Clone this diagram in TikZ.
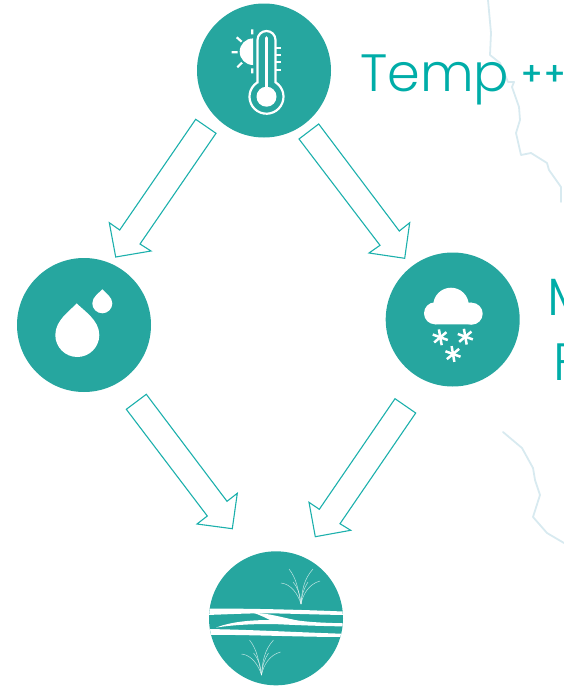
\documentclass[tikz,border=0pt]{standalone}
\usepackage{fontspec}
\newfontfamily\tfont{Poppins Light}
\newfontfamily\pfont{Poppins Medium}
\usetikzlibrary{calc}
\definecolor{tealc}{HTML}{26A69F}
\definecolor{arrowc}{HTML}{1CB0AC}
\definecolor{textc}{HTML}{00ADA8}
\definecolor{mapc}{HTML}{D8EAF0}
\tikzset{
  disc/.style={circle,fill=tealc,minimum size=134pt,inner sep=0pt,draw=none},
  blockarrow/.style={draw=arrowc,line width=1.1pt,line join=miter,fill=none},
  mapline/.style={draw=mapc,line width=1.8pt,line cap=round,line join=round},
  label/.style={inner sep=0pt,anchor=base west,text=textc,font=\tfont\fontsize{52.5}{54}\selectfont},
  flake/.style={draw=white,line width=2.5pt},
  blade/.style={draw=white,line width=0.5pt,opacity=0.7},
  thermo/.style={draw=white,line width=2.2pt}
}
\newcommand{\snow}[3]{\foreach \a in {0,60,120}{\draw[flake] ($(#1,#2)+(\a+#3:8)$) -- ($(#1,#2)+(\a+#3+180:8)$);}}
\newcommand{\grass}[2]{\begin{scope}[shift={(#1,#2)}]
 \draw[blade] (0,0) .. controls (-3,-14) and (-4,-25) .. (-12,-35);
 \draw[blade] (0,0) .. controls (1,-14) and (3,-25) .. (12,-35);
 \draw[blade] (0,0) .. controls (-3,-10) and (-10,-20) .. (-20,-21);
 \draw[blade] (0,0) .. controls (2,-10) and (8,-20) .. (19,-23);
 \draw[blade] (0,0) .. controls (-1,-10) and (-3,-16) .. (-8,-22);
 \draw[blade] (0,0) .. controls (1,-10) and (3,-16) .. (7,-22);
\end{scope}}
\begin{document}
\begin{tikzpicture}[x=1pt,y=-1pt]
\useasboundingbox (0,0) rectangle (564,688);
\clip (0,0) rectangle (564,688);
% map
\draw[mapline] (488,0) -- (491,33) -- (490,55) -- (500,63) -- (508,82) -- (514,82) -- (512,87) -- (519,107) -- (520,120) -- (516,133) -- (521,155) -- (531,153) -- (547,163) -- (549,170) -- (561,187) -- (561,202);
\draw[mapline] (503,432) -- (522,448) -- (533,468) -- (535,480) -- (540,495) -- (533,517) -- (547,533) -- (564,543);
% discs
\node[disc] (temp) at (264,70.5) {};
\node[disc] (water) at (84,325) {};
\node[disc] (snow) at (452.7,319.5) {};
\node[disc] (river) at (276,618.3) {};
% arrows
\draw[blockarrow] (195.7,119.3) -- (216,133.3) -- (140,244) -- (151,251) -- (115.7,257) -- (109.3,222.7) -- (119.7,230) -- cycle;
\draw[blockarrow] (318.7,124) -- (299,139) -- (380,245.3) -- (369,253) -- (404.7,258.3) -- (409.7,222.7) -- (399.3,231) -- cycle;
\draw[blockarrow] (146.3,394.3) -- (126.3,409.3) -- (207.3,516) -- (197,524) -- (232.3,528.7) -- (237.3,493.3) -- (227,501.3) -- cycle;
\draw[blockarrow] (395,398.7) -- (415.7,413) -- (340,523.7) -- (350.7,530.3) -- (315.3,536.7) -- (309,502.3) -- (319.3,509.3) -- cycle;
% thermometer
\fill[white] (253,38.4) arc (-90:-270:13.3) -- cycle;
\draw[thermo] (252.3,29.3) -- (252.3,34.3) (236.7,37.3) -- (241.7,41.7) (231.7,52.3) -- (237.7,52.3) (237.3,67.3) -- (242,62.7) (252.3,68.3) -- (252.3,73.3);
\draw[thermo] (276,47.7) -- (281,47.7) (276,55) -- (281,55) (276,62.3) -- (281,62.3) (276,70) -- (281,70);
\draw[thermo] (257.5,82.3) -- (257.5,40) arc (-180:0:9) -- (275.5,82.3) arc (-58:238:17) -- cycle;
\draw[white,line width=3.6pt,line cap=round] (266.5,38) -- (266.5,90);
\fill[white] (266.5,96.7) circle (10);
% drops
\fill[white] (76.7,303.3) .. controls (70,311) and (55.3,320) .. (55.3,335) arc (-180:-360:22) .. controls (99.3,320) and (84,311) .. cycle;
\fill[white] (102.3,289.3) .. controls (99,293) and (92.3,297) .. (92.3,303.3) arc (-180:-360:10) .. controls (112.3,297) and (105.6,293) .. cycle;
% cloud
\fill[white] (435,313.3) circle (11) (451,305.5) circle (17.8) (471.7,313.7) circle (11);
\fill[white] (435,302.3) -- (471.7,302.7) -- (471.7,324.5) -- (435,324.3) -- cycle;
\snow{440.3}{337.3}{80}
\snow{465.3}{336.7}{80}
\snow{453}{354}{80}
% river bands
\begin{scope}
\clip (river.center) circle (66.9);
\fill[white] (205,608.6) .. controls (240,608.4) and (290,609.2) .. (345,611.6) -- (345,615) .. controls (310,614.5) and (285,613.3) .. (262,613.3) .. controls (240,613.5) and (225,614.5) .. (205,615) -- cycle;
\fill[white] (254,613) .. controls (270,613) and (287,619) .. (300,620.8) .. controls (315,622.6) and (330,623) .. (345,623.3) -- (345,626.4) .. controls (325,626.2) and (300,625.3) .. (280,624.3) .. controls (260,623.5) and (235,624.5) .. (216,627.6) .. controls (230,622) and (250,620) .. (270,620) .. controls (266,618) and (260,615) .. (254,613) -- cycle;
\fill[white] (205,629) .. controls (250,629.5) and (300,632.5) .. (345,633.8) -- (345,637) .. controls (300,637) and (250,634.6) .. (205,634.8) -- cycle;
\end{scope}
\grass{301}{604}
\grass{261.5}{675}
% labels
\node[label] (templabel) at (360,91.7) {Temp};
\node[label,font=\pfont\fontsize{32.5}{33}\selectfont] (pluslabel) at (520,85) {++};
\node[label] (mlabel) at (547,315) {M};
\node[label] (flabel) at (553,380) {F};
\end{tikzpicture}
\end{document}
